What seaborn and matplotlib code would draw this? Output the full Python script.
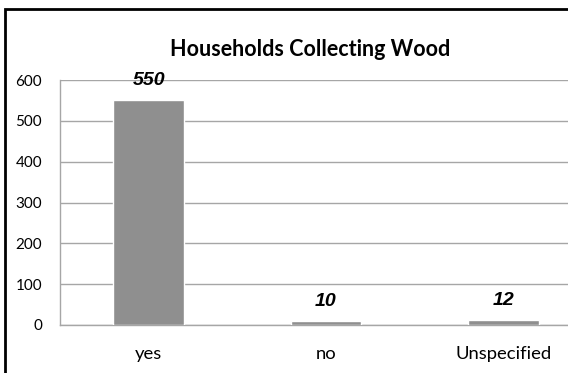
import matplotlib
matplotlib.use("Agg")
import matplotlib.pyplot as plt
import seaborn as sns
import pandas as pd
from matplotlib.patches import Rectangle

categories = ["yes", "no", "Unspecified"]
households = [550, 10, 12]
y_ticks = [0, 100, 200, 300, 400, 500, 600]

df = pd.DataFrame({"answer": categories, "households": households})

sns.set_style("white")
plt.rcParams["font.family"] = ["Lato", "DejaVu Sans"]
plt.rcParams["text.color"] = "black"
plt.rcParams["xtick.color"] = "black"
plt.rcParams["ytick.color"] = "black"

fig = plt.figure(figsize=(5.68, 3.73), dpi=100)
W, H = 568, 373
# plot area runs past the right edge, like the cropped original
ax = fig.add_axes([60 / W, (H - 325) / H, (592 - 60) / W, (325 - 80) / H])

grid_col = "#a6a6a6"
sns.barplot(data=df, x="answer", y="households", color="#8f8f8f",
            width=0.4, saturation=1, ax=ax, zorder=3)

ax.set_xlim(-0.5, len(categories) - 0.5)
ax.set_ylim(0, 600)
ax.set_yticks(y_ticks)
ax.set_yticklabels([str(t) for t in y_ticks])
ax.yaxis.grid(True, color=grid_col, lw=1)
ax.set_axisbelow(True)

# category ticks sit between the bars
ax.set_xticks([i - 0.5 for i in range(len(categories) + 1)], minor=True)
ax.tick_params(axis="x", which="major", length=0, pad=15, labelsize=13.3,
               labelcolor="black")
ax.tick_params(axis="x", which="minor", length=6, color=grid_col, width=1)
ax.tick_params(axis="y", length=5, color=grid_col, width=1, pad=8,
               labelsize=11, labelcolor="black")
ax.set_xlabel("")
ax.set_ylabel("")

for side in ["top", "right"]:
    ax.spines[side].set_visible(False)
for side in ["left", "bottom"]:
    ax.spines[side].set_color(grid_col)
    ax.spines[side].set_linewidth(1)

for i, v in enumerate(households):
    ax.annotate(str(v), (i, v), xytext=(0, 8), textcoords="offset points",
                ha="center", va="bottom", fontsize=14, fontweight="bold",
                fontstyle="italic", color="black",
                family=["Liberation Sans", "DejaVu Sans"])

fig.text(310 / W, 1 - 49 / H, "Households Collecting Wood", ha="center",
         va="center", fontsize=15.5, fontweight="bold", color="black")

# chart frame (top and left edges visible, rest cropped)
fig.patches.append(Rectangle((5 / W, -0.1), 1.2, (H - 9) / H + 0.1,
                             transform=fig.transFigure, fill=False,
                             edgecolor="black", lw=2, clip_on=False))

fig.savefig("out.png", dpi=100)
